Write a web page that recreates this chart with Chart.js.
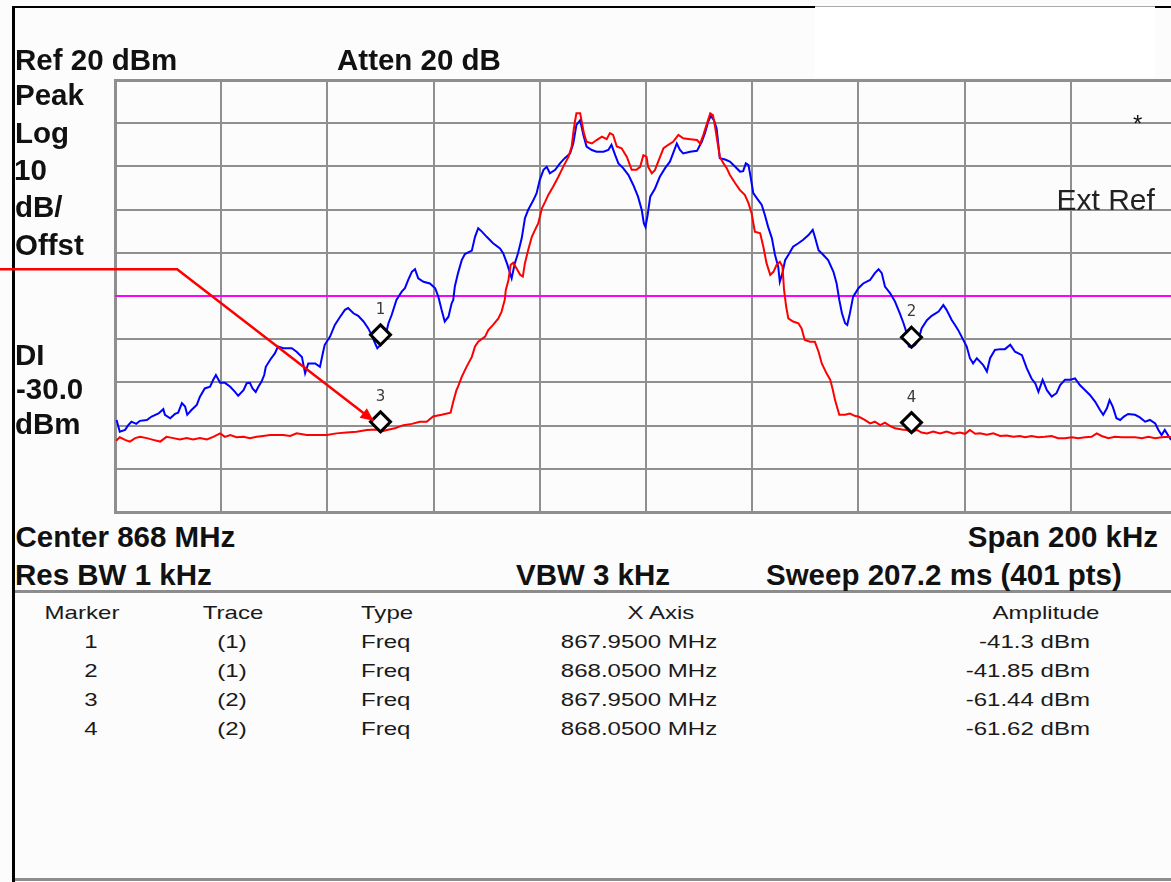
<!DOCTYPE html>
<html lang="en">
<head>
<meta charset="UTF-8">
<title>Spectrum 868 MHz</title>
<script src="https://cdn.jsdelivr.net/npm/chart.js"></script>
<style>
    html, body {
        margin: 0;
        padding: 0;
        background: #fcfcfc;
        overflow: hidden;
    }

    .wrap {
        position: relative;
        width: 1171px;
        height: 882px;
        overflow: hidden;
    }

    #spectrum {
        position: absolute;
        left: 0;
        top: 0;
    }

    .ln {
        position: absolute;
    }

    .lbl {
        position: absolute;
        font-family: "Liberation Sans", Arial, sans-serif;
        font-weight: bold;
        font-size: 29.5px;
        line-height: 29.5px;
        color: #111;
        white-space: nowrap;
    }

    .thin {
        position: absolute;
        font-family: "Liberation Sans", Arial, sans-serif;
        color: #222;
        white-space: nowrap;
    }

    .cell {
        position: absolute;
        font-family: "Liberation Sans", Arial, sans-serif;
        font-size: 18.5px;
        line-height: 18.5px;
        color: #1a1a1a;
        white-space: nowrap;
    }

    .cell.c { width: 200px; text-align: center; transform: scaleX(1.3); transform-origin: 50% 50%; }
    .cell.l { transform: scaleX(1.3); transform-origin: 0 50%; }
    .cell.r { width: 200px; text-align: right; transform: scaleX(1.3); transform-origin: 100% 50%; }
</style>
</head>
<body>
<div class="wrap" id="wrap">
    <!-- frame -->
    <div class="ln" style="left:815px;top:7px;width:340px;height:70px;background:#fff;"></div>
    <div class="ln" style="left:12px;top:6px;width:3px;height:876px;background:#000;"></div>
    <div class="ln" style="left:12px;top:6px;width:803px;height:2px;background:#000;"></div>
    <div class="ln" style="left:815px;top:6px;width:340px;height:1px;background:#aaa;"></div>
    <div class="ln" style="left:1155px;top:6px;width:16px;height:2px;background:#000;"></div>
    <div class="ln" style="left:15px;top:590px;width:1156px;height:3px;background:#8c8c8c;"></div>
    <div class="ln" style="left:15px;top:878px;width:1156px;height:3px;background:#8c8c8c;"></div>

    <canvas id="spectrum" width="1180" height="520"></canvas>

    <!-- analyzer annotations -->
    <div class="lbl" style="left:15px;top:44.5px;">Ref 20 dBm</div>
    <div class="lbl" style="left:337px;top:44.5px;">Atten 20 dB</div>
    <div class="lbl" style="left:15px;top:80px;">Peak</div>
    <div class="lbl" style="left:15px;top:117.5px;">Log</div>
    <div class="lbl" style="left:14px;top:155px;">10</div>
    <div class="lbl" style="left:15px;top:192px;">dB/</div>
    <div class="lbl" style="left:15px;top:229.5px;">Offst</div>
    <div class="lbl" style="left:15px;top:340px;">DI</div>
    <div class="lbl" style="left:16px;top:373.5px;">-30.0</div>
    <div class="lbl" style="left:15px;top:408.5px;">dBm</div>
    <div class="lbl" style="left:15.5px;top:521.5px;">Center 868 MHz</div>
    <div class="lbl" style="left:858px;top:521.5px;width:300px;text-align:right;">Span 200 kHz</div>
    <div class="lbl" style="left:15px;top:560px;">Res BW 1 kHz</div>
    <div class="lbl" style="left:516px;top:560px;">VBW 3 kHz</div>
    <div class="lbl" style="left:766px;top:560px;">Sweep 207.2 ms (401 pts)</div>
    <div class="thin" style="left:1133px;top:112px;font-size:24px;line-height:24px;color:#111;">*</div>
    <div class="thin" style="left:1056.5px;top:185.3px;font-size:30px;line-height:30px;">Ext Ref</div>

    <div id="table"></div>
</div>

<script>
// frequency offset from 868 MHz centre, kHz
const spanKHz = [-100, 100];
const centerMHz = 868;
const displayLine = -30;

// trace 1 (blue)
const blueFreq = [
    -99.7, -99.1, -98.1, -97.5, -96.9, -96.0, -95.3, -94.0, -93.1, -91.8,
    -90.9, -90.6, -89.6, -88.7, -88.1, -87.4, -86.8, -86.4, -85.6, -84.6,
    -84.0, -83.1, -82.1, -81.5, -81.0, -80.2, -79.3, -78.3, -77.4, -76.8,
    -75.8, -75.2, -74.6, -74.1, -73.5, -73.0, -72.4, -71.9, -71.6, -70.8,
    -69.9, -69.3, -68.3, -66.7, -65.8, -64.8, -64.2, -63.6, -62.3, -61.4,
    -60.8, -60.5, -59.5, -58.6, -57.6, -56.7, -56.1, -55.1, -54.2, -53.2,
    -52.3, -51.7, -51.0, -50.6, -50.0, -49.2, -48.5, -47.9, -47.0, -46.0,
    -45.4, -44.8, -44.1, -43.5, -42.9, -41.9, -40.7, -39.7, -39.1, -38.5,
    -37.9, -37.2, -36.6, -36.3, -36.0, -35.4, -34.7, -34.1, -32.8, -32.2,
    -31.6, -30.9, -30.0, -28.8, -27.5, -26.9, -26.2, -25.6, -25.3, -24.7,
    -24.1, -23.4, -22.8, -22.2, -21.2, -20.6, -20.0, -19.3, -18.7, -18.1,
    -17.1, -16.2, -15.3, -14.3, -13.7, -13.1, -12.4, -11.8, -11.2, -10.2,
    -9.3, -8.0, -7.1, -6.5, -5.8, -5.2, -4.3, -3.3, -2.4, -1.5,
    -0.8, -0.4, -0.1, 0.3, 0.8, 1.7, 2.6, 3.6, 4.5, 5.1,
    5.8, 6.4, 7.0, 8.3, 9.6, 10.5, 11.1, 11.7, 12.2, 12.8,
    13.3, 13.9, 14.9, 15.8, 16.8, 17.7, 18.3, 18.8, 19.3, 19.7,
    20.2, 20.9, 21.8, 22.4, 23.0, 23.7, 24.3, 24.9, 25.2, 25.7,
    26.2, 26.8, 27.7, 28.7, 29.6, 30.6, 31.4, 31.8, 32.5, 33.4,
    34.3, 35.3, 35.9, 36.4, 36.9, 37.5, 37.9, 38.4, 39.0, 40.0,
    40.9, 42.2, 43.1, 43.8, 44.4, 45.0, 46.0, 46.9, 47.8, 48.5,
    49.1, 49.5, 50.0, 50.7, 51.3, 51.9, 52.9, 53.8, 55.1, 56.0,
    56.6, 57.6, 58.2, 58.8, 59.6, 60.4, 61.0, 61.6, 62.3, 62.9,
    63.5, 64.2, 64.8, 65.7, 66.7, 67.6, 68.6, 69.5, 70.8, 71.7,
    72.6, 73.3, 73.9, 74.7, 75.5, 76.4, 77.3, 78.0, 78.9, 79.9,
    80.8, 81.7, 82.7, 83.6, 84.6, 85.5, 86.1, 86.8, 87.3, 87.9,
    88.6, 89.3, 90.0, 90.8, 92.1, 93.0, 94.0, 94.9, 95.9, 96.5,
    97.1, 97.7, 98.4, 98.9
];
const blueLevel = [
    -58.7, -61.4, -61.0, -59.9, -59.1, -59.6, -58.9, -58.7, -57.9, -57.2,
    -56.2, -57.5, -58.3, -57.3, -57.0, -54.8, -55.6, -57.5, -56.4, -55.2,
    -53.3, -51.4, -51.0, -49.4, -48.3, -50.1, -50.1, -51.0, -52.2, -53.1,
    -51.8, -50.2, -50.1, -51.4, -52.2, -51.0, -49.8, -48.3, -46.4, -44.8,
    -43.3, -41.7, -42.1, -42.1, -42.9, -44.1, -47.9, -45.6, -45.6, -46.4,
    -42.9, -41.3, -39.4, -36.7, -34.8, -33.2, -32.8, -34.0, -34.6, -35.9,
    -37.5, -39.0, -41.0, -42.1, -41.3, -39.8, -36.3, -34.4, -30.9, -29.0,
    -28.2, -26.3, -24.4, -23.8, -25.9, -26.7, -27.1, -28.2, -30.2, -33.2,
    -35.9, -34.8, -31.7, -30.9, -27.8, -24.7, -21.7, -20.3, -19.5, -16.3,
    -14.3, -15.1, -16.3, -17.8, -19.0, -20.1, -22.4, -24.7, -25.9, -22.4,
    -20.1, -16.6, -12.0, -10.1, -7.8, -6.2, -3.1, -0.8, -0.1, -1.6,
    -0.8, 0.7, 1.9, 3.0, 5.3, 9.6, 10.7, 7.3, 4.6, 3.8,
    3.4, 3.4, 3.8, 5.0, 2.6, 0.7, -0.4, -2.0, -4.3, -7.0,
    -10.1, -13.2, -14.0, -11.3, -7.0, -5.1, -2.4, -0.4, 1.1, 3.0,
    5.3, 3.8, 3.0, 3.4, 3.6, 5.7, 7.7, 10.3, 11.7, 10.7,
    8.8, 1.9, 1.6, 1.1, -0.1, -1.2, -1.1, 0.7, 0.3, -2.4,
    -6.2, -7.4, -8.9, -11.3, -14.0, -16.6, -20.5, -23.2, -26.7, -24.7,
    -21.7, -20.5, -18.6, -17.8, -17.0, -15.9, -14.7, -16.3, -19.4, -20.5,
    -21.7, -24.4, -27.1, -30.9, -34.0, -36.3, -36.7, -34.0, -30.2, -28.2,
    -27.1, -26.3, -24.7, -23.8, -24.7, -27.8, -29.4, -31.3, -34.0, -36.3,
    -38.6, -41.7, -41.9, -41.3, -40.2, -37.5, -35.6, -34.6, -33.6, -32.1,
    -33.2, -35.6, -36.7, -37.9, -39.8, -41.7, -44.4, -45.6, -44.4, -45.2,
    -46.0, -47.5, -44.4, -42.5, -42.3, -42.3, -41.3, -42.9, -43.7, -46.7,
    -49.1, -50.2, -52.2, -49.4, -51.8, -53.3, -52.5, -50.6, -49.4, -49.4,
    -49.1, -50.6, -51.8, -52.9, -54.5, -56.4, -57.5, -56.0, -54.1, -55.6,
    -58.3, -58.7, -57.9, -57.3, -57.5, -58.1, -59.1, -58.7, -59.5, -61.0,
    -62.2, -61.0, -62.4, -63.3
];

// trace 2 (red)
const redFreq = [
    -99.8, -99.1, -98.1, -97.2, -96.2, -95.3, -94.0, -92.8, -91.5, -90.3,
    -89.0, -87.8, -86.5, -85.3, -84.0, -82.7, -81.5, -80.2, -79.3, -78.3,
    -77.1, -75.8, -74.6, -73.3, -72.1, -70.8, -69.6, -68.3, -67.0, -65.8,
    -63.9, -62.0, -60.1, -58.3, -56.4, -54.5, -52.6, -50.7, -50.0, -48.8,
    -47.3, -45.7, -44.1, -42.6, -41.3, -40.1, -38.5, -36.8, -36.3, -35.7,
    -35.4, -34.7, -33.8, -32.8, -32.2, -31.6, -30.3, -29.7, -28.8, -27.8,
    -27.2, -26.6, -26.4, -25.9, -25.5, -25.0, -24.4, -23.7, -23.2, -22.8,
    -22.2, -21.5, -20.9, -20.3, -19.6, -19.0, -18.4, -17.5, -16.5, -15.6,
    -14.6, -14.0, -13.7, -13.4, -13.1, -12.4, -12.1, -11.7, -11.2, -10.2,
    -9.3, -8.3, -7.4, -6.8, -6.2, -5.5, -4.6, -3.6, -2.7, -1.8,
    -1.1, -0.5, 0.1, 0.4, 1.1, 1.7, 2.3, 3.3, 4.2, 5.1,
    6.1, 7.0, 8.3, 9.6, 10.2, 10.8, 11.4, 12.1, 12.6, 13.0,
    13.4, 13.9, 14.6, 15.2, 15.8, 16.8, 17.7, 18.6, 19.3, 19.9,
    20.5, 21.5, 22.1, 22.7, 23.4, 24.0, 24.6, 25.2, 25.7, 26.0,
    26.4, 26.8, 27.7, 28.7, 29.3, 29.9, 30.9, 31.8, 32.5, 33.1,
    34.0, 34.7, 35.2, 35.6, 36.4, 37.5, 38.4, 39.4, 40.0, 41.2,
    42.2, 43.1, 44.1, 45.0, 46.0, 46.9, 48.2, 49.1, 50.0, 51.0,
    51.9, 52.9, 54.1, 55.4, 56.6, 57.9, 59.1, 60.1, 61.0, 62.0,
    62.9, 64.2, 65.4, 66.7, 67.9, 69.2, 70.4, 71.4, 72.6, 73.9,
    75.1, 76.4, 77.6, 78.9, 80.2, 81.4, 82.7, 83.9, 84.9, 85.8,
    87.1, 88.3, 89.6, 90.8, 92.1, 93.4, 94.6, 95.9, 97.1, 98.4,
    99.6
];
const redLevel = [
    -63.5, -62.7, -63.3, -63.7, -62.9, -62.6, -62.9, -63.3, -63.7, -62.6,
    -62.9, -63.2, -62.9, -63.2, -62.9, -63.2, -62.6, -61.8, -62.6, -62.2,
    -62.7, -62.6, -62.9, -62.6, -62.4, -62.2, -62.2, -62.2, -62.4, -61.8,
    -62.2, -62.2, -62.2, -61.8, -61.6, -61.4, -61.0, -60.9, -61.4, -61.0,
    -60.6, -59.9, -59.6, -59.1, -59.1, -57.9, -57.5, -57.0, -54.5, -51.8,
    -51.0, -48.7, -46.4, -44.1, -41.7, -40.6, -39.4, -37.9, -36.7, -35.2,
    -33.6, -30.9, -28.6, -26.3, -22.8, -22.3, -23.6, -25.1, -25.5, -22.4,
    -19.4, -16.3, -14.7, -13.2, -9.7, -8.2, -6.6, -4.7, -2.4, -0.1,
    2.2, 4.6, 7.7, 10.3, 12.3, 12.3, 10.3, 7.7, 5.7, 5.3,
    6.1, 6.9, 6.3, 7.7, 7.3, 4.6, 4.2, 2.2, -0.8, -0.8,
    -0.1, 2.6, 2.2, -0.1, -1.6, -0.8, 1.1, 4.2, 5.0, 5.7,
    7.3, 6.5, 6.3, 6.1, 5.3, 7.3, 9.6, 12.3, 11.9, 9.2,
    6.1, 2.2, 0.7, -0.4, -2.0, -3.9, -5.5, -6.6, -8.5, -10.9,
    -15.1, -15.5, -18.6, -22.4, -25.1, -24.4, -22.8, -22.1, -23.2, -28.6,
    -32.5, -35.2, -35.9, -36.3, -37.5, -40.2, -40.6, -40.6, -42.9, -45.6,
    -47.9, -49.4, -51.8, -54.1, -57.5, -57.5, -57.2, -57.8, -57.9, -58.7,
    -59.5, -59.1, -59.9, -59.3, -60.1, -60.6, -60.9, -61.0, -61.6, -61.0,
    -61.6, -61.8, -61.4, -61.8, -61.4, -61.9, -61.6, -61.9, -61.0, -61.9,
    -61.8, -62.1, -61.8, -62.4, -62.3, -62.6, -62.4, -62.7, -62.4, -62.7,
    -62.6, -62.4, -62.9, -62.9, -62.7, -62.9, -62.7, -62.6, -61.8, -62.4,
    -62.9, -62.6, -62.7, -62.7, -62.7, -62.9, -62.6, -62.9, -62.7, -62.6,
    -62.8
];

// markers (also the table under the plot)
const markerNames = ['1', '2', '3', '4'];
const markerTrace = [1, 1, 2, 2];
const markerFreq = [-50, 50, -50, 50];
const markerAmp = [-41.3, -41.85, -61.44, -61.62];

// callout elbow, in chart units (kHz, dBm)
const calloutElbow = [-88.3, -23.8];

function toPoints(xs, ys) {
    return xs.map((x, i) => ({ x: x, y: ys[i] }));
}

// Marker diamonds, their numbers and the red callout arrow
const markerPlugin = {
    id: 'markers',
    afterDatasetsDraw(chart) {
        const ctx = chart.ctx;
        const xs = chart.scales.x, ys = chart.scales.y;
        markerFreq.forEach((f, i) => {
            const px = xs.getPixelForValue(f);
            const py = ys.getPixelForValue(markerAmp[i]) - 10;
            ctx.save();
            ctx.beginPath();
            ctx.moveTo(px, py - 10);
            ctx.lineTo(px + 10, py);
            ctx.lineTo(px, py + 10);
            ctx.lineTo(px - 10, py);
            ctx.closePath();
            ctx.fillStyle = '#fff';
            ctx.fill();
            ctx.lineWidth = 3;
            ctx.strokeStyle = '#000';
            ctx.stroke();
            ctx.font = '15px "DejaVu Sans"';
            ctx.fillStyle = '#3a3a3a';
            ctx.textAlign = 'center';
            ctx.fillText(markerNames[i], px, py - 21);
            ctx.restore();
        });
    },
    afterDraw(chart) {
        const ctx = chart.ctx;
        const xs = chart.scales.x, ys = chart.scales.y;
        const ex = xs.getPixelForValue(calloutElbow[0]);
        const ey = ys.getPixelForValue(calloutElbow[1]);
        const tx = xs.getPixelForValue(markerFreq[2]) - 7;
        const ty = ys.getPixelForValue(markerAmp[2]) - 11;
        ctx.save();
        ctx.strokeStyle = '#ff0000';
        ctx.fillStyle = '#ff0000';
        ctx.lineWidth = 2.5;
        ctx.beginPath();
        ctx.moveTo(0, ey);
        ctx.lineTo(ex, ey);
        ctx.lineTo(tx, ty);
        ctx.stroke();
        // arrow head
        const a = Math.atan2(ty - ey, tx - ex);
        const len = 13, half = 6;
        ctx.beginPath();
        ctx.moveTo(tx, ty);
        ctx.lineTo(tx - len * Math.cos(a) + half * Math.sin(a), ty - len * Math.sin(a) - half * Math.cos(a));
        ctx.lineTo(tx - len * Math.cos(a) - half * Math.sin(a), ty - len * Math.sin(a) + half * Math.cos(a));
        ctx.closePath();
        ctx.fill();
        ctx.restore();
    }
};

const gridColor = '#8f8f8f';

const ctx = document.getElementById('spectrum').getContext('2d');
const chart = new Chart(ctx, {
    type: 'line',
    data: {
        datasets: [
            {
                label: 'Trace 2',
                data: toPoints(redFreq, redLevel),
                borderColor: '#ff0000',
                borderWidth: 2,
                pointRadius: 0,
                tension: 0,
                order: 0
            },
            {
                label: 'Trace 1',
                data: toPoints(blueFreq, blueLevel),
                borderColor: '#0000ff',
                borderWidth: 2,
                pointRadius: 0,
                tension: 0,
                order: 1
            },
            {
                label: 'Display line',
                data: [{ x: spanKHz[0], y: displayLine }, { x: spanKHz[1], y: displayLine }],
                borderColor: '#ff00ff',
                borderWidth: 2,
                pointRadius: 0,
                order: 2
            }
        ]
    },
    options: {
        responsive: false,
        animation: false,
        layout: {
            padding: { left: 115, top: 80, right: 3, bottom: 8 }
        },
        plugins: {
            legend: { display: false },
            tooltip: { enabled: false }
        },
        scales: {
            x: {
                type: 'linear',
                min: spanKHz[0],
                max: spanKHz[1],
                ticks: { display: false, stepSize: 20 },
                grid: { color: gridColor, lineWidth: 2, drawTicks: false },
                border: { color: gridColor, width: 3 }
            },
            y: {
                min: -80,
                max: 20,
                ticks: { display: false, stepSize: 10 },
                grid: {
                    color: gridColor,
                    lineWidth: c => (c.tick && c.tick.value === 20 ? 3 : 2),
                    drawTicks: false
                },
                border: { color: gridColor, width: 3 }
            }
        }
    },
    plugins: [markerPlugin]
});

// Marker table
const table = document.getElementById('table');
function cell(text, cls, left, top) {
    const d = document.createElement('div');
    d.className = 'cell ' + cls;
    d.style.left = left + 'px';
    d.style.top = top + 'px';
    d.textContent = text;
    table.appendChild(d);
}

cell('Marker', 'c', 82 - 100, 604.3);
cell('Trace', 'c', 233 - 100, 604.3);
cell('Type', 'l', 361, 604.3);
cell('X Axis', 'c', 661 - 100, 604.3);
cell('Amplitude', 'c', 1046 - 100, 604.3);

markerNames.forEach((m, i) => {
    const top = 632.5 + i * 29;
    const mhz = (centerMHz + markerFreq[i] / 1000).toFixed(4) + ' MHz';
    cell(m, 'c', 91 - 100, top);
    cell('(' + markerTrace[i] + ')', 'c', 231.5 - 100, top);
    cell('Freq', 'l', 361, top);
    cell(mhz, 'c', 638.5 - 100, top);
    cell(markerAmp[i] + ' dBm', 'r', 1090 - 200, top);
});
</script>
</body>
</html>
